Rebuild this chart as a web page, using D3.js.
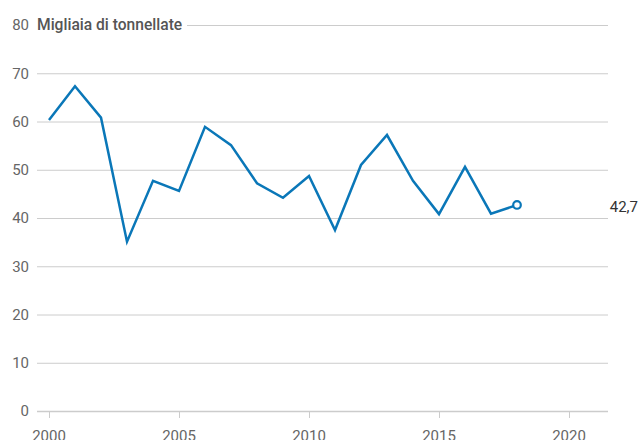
<!DOCTYPE html>
<html><head><meta charset="utf-8">
<script src="https://cdn.jsdelivr.net/npm/d3@7"></script>
<style>
html,body{margin:0;padding:0;background:#fff;}
svg{display:block;font-family:Roboto, "Noto Sans", sans-serif;}
</style></head>
<body>
<svg id="chart" width="639" height="440"></svg>
<script>
const years = [2000,2001,2002,2003,2004,2005,2006,2007,2008,2009,2010,2011,2012,2013,2014,2015,2016,2017,2018];
const values = [60.3,67.3,60.8,35.1,47.7,45.6,58.9,55.1,47.2,44.2,48.7,37.5,51.0,57.2,47.7,40.8,50.6,40.9,42.7];
const yTicks = [0,10,20,30,40,50,60,70,80];
const xTicks = [2000,2005,2010,2015,2020];
const unitLabel = "Migliaia di tonnellate";
const lastLabel = "42,7";

const svg = d3.select("#chart");
const x = d3.scaleLinear().domain([2000,2020]).range([49,569]);
const y = d3.scaleLinear().domain([0,80]).range([411,25]);
const gridLeft = 37, gridRight = 608;
const blue = "#0a77b8";

// gridlines
svg.append("g").selectAll("line").data(yTicks.filter(d=>d>0)).join("line")
  .attr("x1", d => d===80 ? 187 : gridLeft).attr("x2", gridRight)
  .attr("y1", d=>y(d)+0.5).attr("y2", d=>y(d)+0.5)
  .attr("stroke","#cccccc").attr("stroke-width",1);

// baseline
svg.append("line").attr("x1",gridLeft).attr("x2",gridRight)
  .attr("y1",y(0)+0.5).attr("y2",y(0)+0.5).attr("stroke","#cccccc").attr("stroke-width",1.5);

// y labels
svg.append("g").selectAll("text").data(yTicks).join("text")
  .attr("x",29).attr("y",d=>y(d)).attr("dy","0.35em")
  .attr("text-anchor","end").attr("font-size",15).attr("fill","#666")
  .text(d=>d);

// unit label
svg.append("text").attr("x",37).attr("y",y(80)).attr("dy","0.35em")
  .attr("font-size",15.6).attr("font-weight",500).attr("fill","#555")
  .text(unitLabel);

// x axis ticks and labels
const xa = svg.append("g");
xa.selectAll("line").data(xTicks).join("line")
  .attr("x1",d=>x(d)+0.5).attr("x2",d=>x(d)+0.5)
  .attr("y1",y(0)).attr("y2",y(0)+7)
  .attr("stroke","#cccccc").attr("stroke-width",1);
xa.selectAll("text").data(xTicks).join("text")
  .attr("x",d=>x(d)).attr("y",441)
  .attr("text-anchor","middle").attr("font-size",15).attr("fill","#666")
  .text(d=>d);

// line
const line = d3.line().x((d,i)=>x(years[i])).y(d=>y(d));
svg.append("path").datum(values).attr("d",line)
  .attr("fill","none").attr("stroke",blue).attr("stroke-width",2.5)
  .attr("stroke-linejoin","miter");

// end marker
const n = values.length-1;
svg.append("circle").attr("cx",x(years[n])).attr("cy",y(values[n])).attr("r",3.8)
  .attr("fill","#fff").attr("stroke",blue).attr("stroke-width",2.2);

svg.append("text").attr("x",638).attr("y",y(values[n])+2).attr("dy","0.35em")
  .attr("text-anchor","end").attr("font-size",15).attr("fill","#333")
  .text(lastLabel);
</script>
</body></html>
